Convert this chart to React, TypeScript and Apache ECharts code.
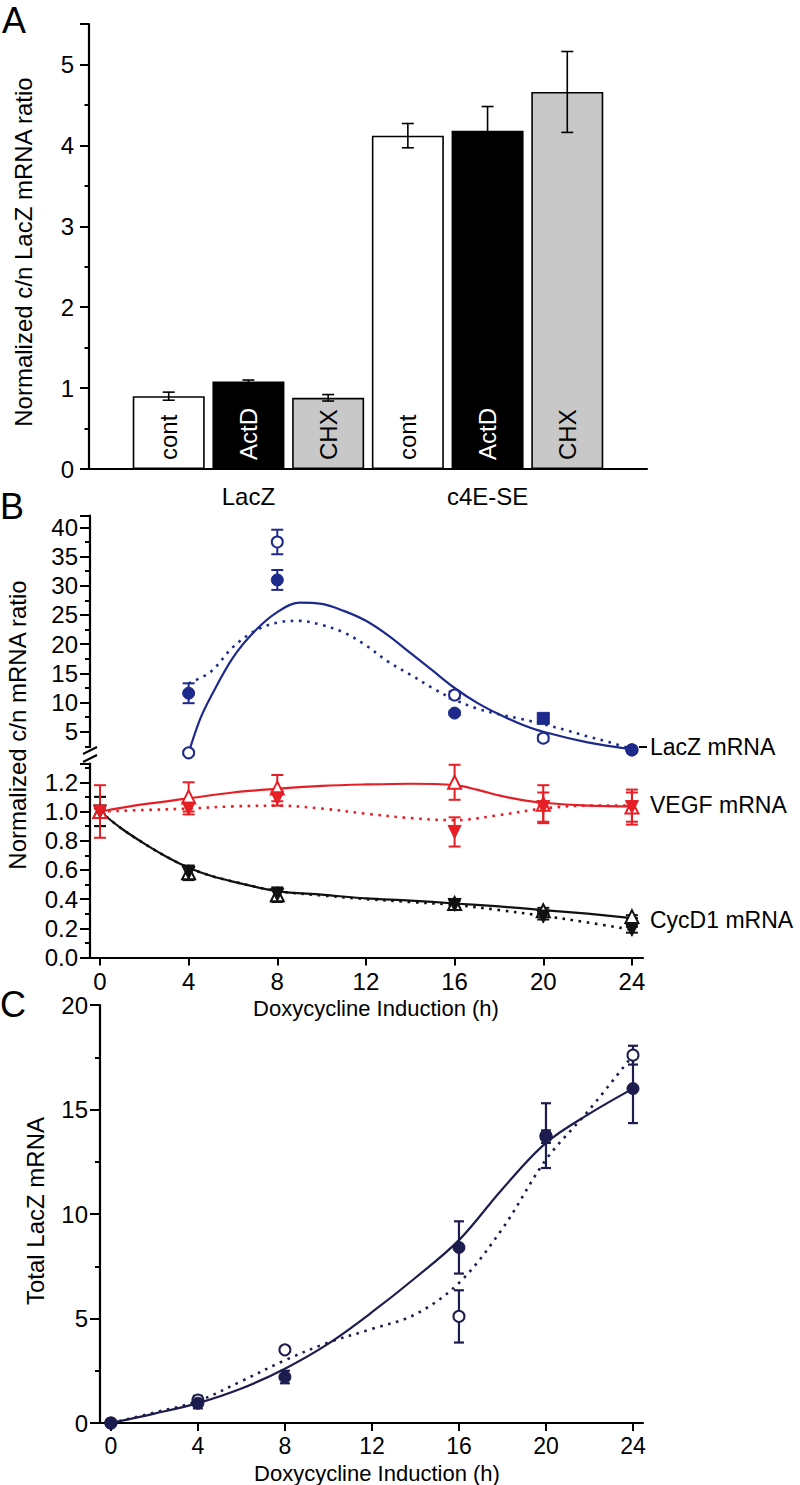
import React, { useEffect, useRef } from 'react';
import * as echarts from 'echarts';

// ---------- Panel A ----------
const groupsA = ['LacZ', 'c4E-SE'];
const treatmentsA = ['cont', 'ActD', 'CHX'];
const lacZMeans = [0.9, 1.08, 0.88];
const lacZErrors = [0.05, 0.02, 0.04];
const c4eMeans = [4.12, 4.18, 4.66];
const c4eErrors = [0.15, 0.3, 0.5];
const yTicksA = [0, 1, 2, 3, 4, 5];

// ---------- Panel B ----------
const hoursB = [0, 4, 8, 16, 20, 24];
const xTicksB = [0, 4, 8, 12, 16, 20, 24];
// LacZ
const lacZHours = [4, 8, 16, 20, 24];
const lacZOpen = [1.4, 37.5, 11.3, 3.9, 1.9];
const lacZOpenErr = [0.3, 2.1, 0.6, 0.5, 0.2];
const lacZFilled = [11.6, 31.0, 8.2, 7.3, 1.9];
const lacZFilledErr = [1.7, 1.7, 0.3, 0.7, 0.2];
const lacZFilledSymbols = ['circle', 'circle', 'circle', 'rect', 'circle'];
const lacZSolidHours = [4, 4.5, 5, 6, 7, 8, 9, 10, 11, 12, 13, 14, 15, 16, 17, 18, 19, 20, 22, 24];
const lacZSolidFit = [1.4, 7, 11, 17.7, 22.3, 25.5, 27.1, 26.9, 25.7, 24, 21.5, 18.5, 15.5, 12.5, 10, 8, 6.3, 5, 3.2, 2];
const lacZDottedHours = [4, 5, 6, 7, 8, 9, 10, 11, 12, 13, 14, 15, 16, 17, 18, 19, 20, 21, 22, 23, 24];
const lacZDottedFit = [13.3, 15.3, 19.5, 22.3, 23.7, 24, 23.3, 22, 19.8, 17, 14.8, 12.5, 10.5, 9, 8, 7.2, 6.3, 5.3, 4.2, 3.2, 2];
// VEGF
const vegfOpen = [1.0, 1.1, 1.16, 1.2, 1.05, 1.03];
const vegfOpenErr = [0.18, 0.1, 0.09, 0.12, 0.13, 0.12];
const vegfFilled = [1.0, 1.02, 1.09, 0.86, 1.03, 1.03];
const vegfFilledErr = [0.02, 0.04, 0.05, 0.1, 0.1, 0.1];
const vegfSolidHours = [0, 2, 4, 6, 8, 10, 12, 14, 16, 17, 18, 19, 20, 22, 24];
const vegfSolidFit = [1.0, 1.05, 1.09, 1.13, 1.155, 1.175, 1.185, 1.19, 1.18, 1.15, 1.11, 1.08, 1.06, 1.04, 1.035];
const vegfDottedHours = [0, 2, 4, 6, 8, 10, 12, 14, 16, 18, 20, 22, 24];
const vegfDottedFit = [1.0, 1.01, 1.02, 1.035, 1.04, 1.02, 0.985, 0.955, 0.94, 0.975, 1.02, 1.04, 1.04];
// CycD1
const cycOpen = [1.0, 0.58, 0.43, 0.37, 0.32, 0.28];
const cycOpenErr = [0.1, 0.05, 0.05, 0.03, 0.02, 0.01];
const cycFilled = [1.0, 0.58, 0.43, 0.36, 0.28, 0.19];
const cycFilledErr = [0.1, 0.04, 0.04, 0.03, 0.02, 0.02];
const cycFitHours = [0, 1, 2, 3, 4, 5, 6, 8, 10, 12, 14, 16, 18, 20, 22, 24];
const cycSolidFit = [1.0, 0.88, 0.78, 0.69, 0.615, 0.56, 0.52, 0.455, 0.43, 0.405, 0.39, 0.37, 0.35, 0.325, 0.3, 0.27];
const cycDottedFit = [1.0, 0.88, 0.78, 0.69, 0.615, 0.56, 0.52, 0.455, 0.425, 0.4, 0.38, 0.36, 0.325, 0.285, 0.24, 0.19];

// ---------- Panel C ----------
const hoursC = [0, 4, 8, 16, 20, 24];
const xTicksC = [0, 4, 8, 12, 16, 20, 24];
const totalFilled = [0, 0.95, 2.2, 8.4, 13.75, 16.0];
const totalFilledErr = [0.05, 0.25, 0.3, 1.25, 1.55, 1.65];
const totalOpen = [0, 1.1, 3.5, 5.1, 13.7, 17.6];
const totalOpenErr = [0.05, 0.2, 0.15, 1.25, 0.3, 0.45];
const totalFitHours = [0, 2, 4, 6, 8, 10, 12, 14, 16, 18, 20, 22, 24];
const totalSolidFit = [0, 0.45, 0.95, 1.65, 2.6, 3.8, 5.3, 6.95, 8.75, 11.2, 13.4, 14.8, 16.0];
const totalDottedFit = [0, 0.5, 1.05, 2.0, 3.0, 3.85, 4.5, 5.2, 6.7, 9.3, 12.6, 15.0, 17.6];

// ---------- styles ----------
const FONT = 'Liberation Sans, Arial, Helvetica, sans-serif';
const BLUE = '#1d2a8c';
const RED = '#e61e25';
const BLACK = '#111111';
const NAVY = '#1c1c4e';
const barFill = ['#ffffff', '#000000', '#c8c8c8'];
const barLabelColor = ['#000000', '#ffffff', '#000000'];

function pairs(xs: number[], ys: number[]) {
  return xs.map((x, i) => [x, ys[i]]);
}

function errorSeries(xs: number[], means: number[], errs: number[], color: string, axis: number, half: number, width: number) {
  return {
    type: 'custom',
    xAxisIndex: axis,
    yAxisIndex: axis,
    silent: true,
    clip: false,
    z: 3,
    data: xs.map((x, i) => [x, means[i] - errs[i], means[i] + errs[i]]),
    encode: { x: 0, y: [1, 2] },
    renderItem: (_params: any, api: any) => {
      const x = api.value(0);
      const p1 = api.coord([x, api.value(1)]);
      const p2 = api.coord([x, api.value(2)]);
      const style = { stroke: color, lineWidth: width, fill: 'none' };
      return {
        type: 'group',
        children: [
          { type: 'line', shape: { x1: p1[0], y1: p1[1], x2: p2[0], y2: p2[1] }, style },
          { type: 'line', shape: { x1: p1[0] - half, y1: p1[1], x2: p1[0] + half, y2: p1[1] }, style },
          { type: 'line', shape: { x1: p2[0] - half, y1: p2[1], x2: p2[0] + half, y2: p2[1] }, style },
        ],
      };
    },
  };
}

function fitLine(xs: number[], ys: number[], color: string, axis: number, dotted: boolean) {
  return {
    type: 'line',
    xAxisIndex: axis,
    yAxisIndex: axis,
    data: pairs(xs, ys),
    smooth: 0.35,
    showSymbol: false,
    silent: true,
    clip: false,
    z: 2,
    lineStyle: dotted
      ? { color, width: 2.6, type: [2.6, 5.6], opacity: 1 }
      : { color, width: 2.2, opacity: 1 },
  };
}

function points(xs: number[], ys: number[], color: string, axis: number, open: boolean, symbol: string | string[], size: number, rotate = 0) {
  return {
    type: 'scatter',
    xAxisIndex: axis,
    yAxisIndex: axis,
    clip: false,
    silent: true,
    z: open ? 4 : 5,
    symbolSize: size,
    symbolRotate: rotate,
    data: xs.map((x, i) => ({
      value: [x, ys[i]],
      symbol: Array.isArray(symbol) ? symbol[i] : symbol,
    })),
    itemStyle: open
      ? { color: '#ffffff', borderColor: color, borderWidth: 2, opacity: 1 }
      : { color, borderColor: color, borderWidth: 1, opacity: 1 },
  };
}

const axisLine = { show: true, onZero: false, lineStyle: { color: '#000', width: 2.2 } };
const tickStyle = { color: '#000', width: 2 };

function buildOption() {
  const barItems: any[] = [];
  const errX: number[] = [];
  const errM: number[] = [];
  const errE: number[] = [];
  groupsA.forEach((_g, gi) => {
    const means = gi === 0 ? lacZMeans : c4eMeans;
    const errs = gi === 0 ? lacZErrors : c4eErrors;
    treatmentsA.forEach((t, ti) => {
      const slot = gi * 3 + ti;
      barItems.push({
        name: t,
        value: [slot, means[ti]],
        itemStyle: { color: barFill[ti] },
        label: { color: barLabelColor[ti] },
      });
      errX.push(slot);
      errM.push(means[ti]);
      errE.push(errs[ti]);
    });
  });

  return {
    animation: false,
    textStyle: { fontFamily: FONT, color: '#000' },
    grid: [
      { left: 89, top: 24, width: 558, height: 445 },
      { left: 90, top: 515.7, width: 553, height: 245.3 },
      { left: 90, top: 763.3, width: 553, height: 194.2 },
      { left: 100, top: 1005, width: 543, height: 418 },
    ],
    xAxis: [
      {
        gridIndex: 0,
        type: 'value',
        min: -1,
        max: 6,
        interval: 1,
        axisLine,
        axisTick: { show: false },
        splitLine: { show: false },
        axisLabel: {
          fontSize: 24,
          margin: 15,
          color: '#000',
          formatter: (v: number) => (v === 1 ? groupsA[0] : v === 4 ? groupsA[1] : ''),
        },
      },
      {
        gridIndex: 1,
        type: 'value',
        min: -0.45,
        max: 24.5,
        show: false,
        splitLine: { show: false },
      },
      {
        gridIndex: 2,
        type: 'value',
        min: -0.45,
        max: 24.5,
        axisLine,
        splitLine: { show: false },
        axisTick: { show: true, customValues: xTicksB, length: 8, lineStyle: tickStyle },
        axisLabel: { customValues: xTicksB, fontSize: 24, margin: 12, color: '#000' },
      },
      {
        gridIndex: 3,
        type: 'value',
        min: -0.5,
        max: 24.46,
        axisLine,
        splitLine: { show: false },
        axisTick: { show: true, customValues: xTicksC, length: 8, lineStyle: tickStyle },
        axisLabel: { customValues: xTicksC, fontSize: 23, margin: 11, color: '#000' },
      },
    ],
    yAxis: [
      {
        gridIndex: 0,
        type: 'value',
        min: 0,
        max: 5.5,
        interval: 1,
        axisLine,
        splitLine: { show: false },
        axisTick: { show: true, length: 9, lineStyle: tickStyle },
        minorTick: { show: true, splitNumber: 2, length: 4.5, lineStyle: tickStyle },
        axisLabel: {
          fontSize: 24,
          margin: 15,
          color: '#000',
          formatter: (v: number) => (yTicksA.includes(v) ? String(v) : ''),
        },
      },
      {
        gridIndex: 1,
        type: 'value',
        min: 0,
        max: 42,
        interval: 5,
        axisLine,
        splitLine: { show: false },
        axisTick: { show: true, length: 10, lineStyle: tickStyle },
        minorTick: { show: true, splitNumber: 2, length: 5, lineStyle: tickStyle },
        axisLabel: {
          fontSize: 24,
          margin: 12,
          color: '#000',
          formatter: (v: number) => (v > 0 && v % 5 === 0 ? String(v) : ''),
        },
      },
      {
        gridIndex: 2,
        type: 'value',
        min: 0,
        max: 1.33,
        interval: 0.2,
        axisLine,
        splitLine: { show: false },
        axisTick: { show: true, length: 10, lineStyle: tickStyle },
        minorTick: { show: true, splitNumber: 2, length: 5, lineStyle: tickStyle },
        axisLabel: {
          fontSize: 24,
          margin: 12,
          color: '#000',
          formatter: (v: number) => (v <= 1.25 ? v.toFixed(1) : ''),
        },
      },
      {
        gridIndex: 3,
        type: 'value',
        min: 0,
        max: 20,
        interval: 5,
        axisLine,
        splitLine: { show: false },
        axisTick: { show: true, length: 10, lineStyle: tickStyle },
        minorTick: { show: true, splitNumber: 2, length: 5, lineStyle: tickStyle },
        axisLabel: { fontSize: 24, margin: 12, color: '#000' },
      },
    ],
    series: [
      // Panel A bars
      {
        type: 'bar',
        xAxisIndex: 0,
        yAxisIndex: 0,
        barWidth: 72,
        silent: true,
        data: barItems,
        itemStyle: { borderColor: '#000', borderWidth: 1.6 },
        label: {
          show: true,
          formatter: '{b}',
          position: 'insideBottom',
          rotate: 90,
          align: 'left',
          verticalAlign: 'middle',
          distance: 9,
          fontSize: 24,
          fontFamily: FONT,
        },
        z: 2,
      },
      errorSeries(errX, errM, errE, '#000', 0, 6, 1.6),

      // Panel B upper: LacZ
      fitLine(lacZSolidHours, lacZSolidFit, BLUE, 1, false),
      fitLine(lacZDottedHours, lacZDottedFit, BLUE, 1, true),
      errorSeries(lacZHours, lacZOpen, lacZOpenErr, BLUE, 1, 6, 2),
      errorSeries(lacZHours, lacZFilled, lacZFilledErr, BLUE, 1, 6, 2),
      points(lacZHours, lacZOpen, BLUE, 1, true, 'circle', 11),
      points(lacZHours, lacZFilled, BLUE, 1, false, lacZFilledSymbols, 12),

      // Panel B lower: CycD1
      fitLine(cycFitHours, cycSolidFit, BLACK, 2, false),
      fitLine(cycFitHours, cycDottedFit, BLACK, 2, true),
      errorSeries(hoursB, cycOpen, cycOpenErr, BLACK, 2, 6, 2),
      errorSeries(hoursB, cycFilled, cycFilledErr, BLACK, 2, 6, 2),
      points(hoursB, cycOpen, BLACK, 2, true, 'triangle', 13),
      points(hoursB, cycFilled, BLACK, 2, false, 'triangle', 13, 180),

      // Panel B lower: VEGF
      fitLine(vegfSolidHours, vegfSolidFit, RED, 2, false),
      fitLine(vegfDottedHours, vegfDottedFit, RED, 2, true),
      errorSeries(hoursB, vegfOpen, vegfOpenErr, RED, 2, 6, 2),
      errorSeries(hoursB, vegfFilled, vegfFilledErr, RED, 2, 6, 2),
      points(hoursB, vegfOpen, RED, 2, true, 'triangle', 13),
      points(hoursB, vegfFilled, RED, 2, false, 'triangle', 13, 180),

      // Panel C
      fitLine(totalFitHours, totalSolidFit, NAVY, 3, false),
      fitLine(totalFitHours, totalDottedFit, NAVY, 3, true),
      errorSeries(hoursC, totalOpen, totalOpenErr, NAVY, 3, 5, 2.2),
      errorSeries(hoursC, totalFilled, totalFilledErr, NAVY, 3, 5, 2.2),
      points(hoursC, totalOpen, NAVY, 3, true, 'circle', 11),
      points(hoursC, totalFilled, NAVY, 3, false, 'circle', 12),
    ],
    graphic: [
      // panel letters
      { type: 'text', x: 2, y: 20, style: { text: 'A', fontSize: 36, fontFamily: FONT, fill: '#000', align: 'left', verticalAlign: 'middle' } },
      { type: 'text', x: 0, y: 506, style: { text: 'B', fontSize: 36, fontFamily: FONT, fill: '#000', align: 'left', verticalAlign: 'middle' } },
      { type: 'text', x: 0, y: 1004, style: { text: 'C', fontSize: 36, fontFamily: FONT, fill: '#000', align: 'left', verticalAlign: 'middle' } },
      // axis titles
      { type: 'text', x: 23, y: 252, rotation: Math.PI / 2, style: { text: 'Normalized c/n LacZ mRNA ratio', fontSize: 24, fontFamily: FONT, fill: '#000', align: 'center', verticalAlign: 'middle' } },
      { type: 'text', x: 17, y: 725, rotation: Math.PI / 2, style: { text: 'Normalized c/n mRNA ratio', fontSize: 24, fontFamily: FONT, fill: '#000', align: 'center', verticalAlign: 'middle' } },
      { type: 'text', x: 35, y: 1211, rotation: Math.PI / 2, style: { text: 'Total LacZ mRNA', fontSize: 24, fontFamily: FONT, fill: '#000', align: 'center', verticalAlign: 'middle' } },
      { type: 'text', x: 376, y: 1008, style: { text: 'Doxycycline Induction (h)', fontSize: 22, fontFamily: FONT, fill: '#000', align: 'center', verticalAlign: 'middle' } },
      { type: 'text', x: 377, y: 1473, style: { text: 'Doxycycline Induction (h)', fontSize: 22, fontFamily: FONT, fill: '#000', align: 'center', verticalAlign: 'middle' } },
      // series labels
      { type: 'text', x: 650, y: 747, style: { text: 'LacZ mRNA', fontSize: 23, fontFamily: FONT, fill: '#000', align: 'left', verticalAlign: 'middle' } },
      { type: 'text', x: 650, y: 805, style: { text: 'VEGF mRNA', fontSize: 23, fontFamily: FONT, fill: '#000', align: 'left', verticalAlign: 'middle' } },
      { type: 'text', x: 650, y: 920, style: { text: 'CycD1 mRNA', fontSize: 23, fontFamily: FONT, fill: '#000', align: 'left', verticalAlign: 'middle' } },
      { type: 'line', shape: { x1: 639, y1: 747, x2: 647, y2: 747 }, style: { stroke: '#000', lineWidth: 2 } },
      // axis break
      { type: 'rect', shape: { x: 68, y: 748, width: 30, height: 14.5 }, style: { fill: '#fff' }, z: 100 },
      { type: 'line', shape: { x1: 83, y1: 754, x2: 97, y2: 747 }, style: { stroke: '#000', lineWidth: 2 }, z: 101 },
      { type: 'line', shape: { x1: 83, y1: 762, x2: 97, y2: 755 }, style: { stroke: '#000', lineWidth: 2 }, z: 101 },
    ],
  };
}

export default function App() {
  const ref = useRef<HTMLDivElement>(null);
  useEffect(() => {
    if (!ref.current) return;
    const chart = echarts.init(ref.current, null, { renderer: 'svg' });
    chart.setOption(buildOption() as any);
    return () => chart.dispose();
  }, []);
  return (
    <div
      ref={ref}
      style={{ position: 'fixed', left: 0, top: 0, width: 800, height: 1485, background: '#ffffff' }}
    />
  );
}
